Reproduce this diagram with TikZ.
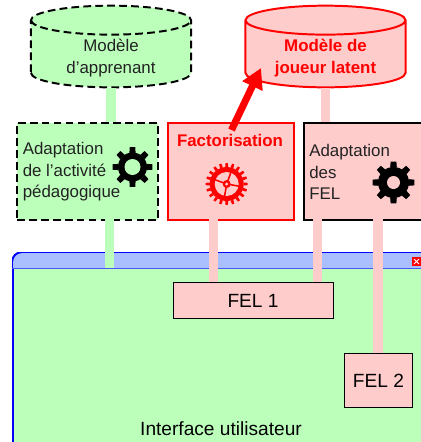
\documentclass[tikz,border=0pt]{standalone}
\usepackage{fontspec}
\setmainfont{Liberation Sans}
\usetikzlibrary{shapes.geometric,arrows.meta}

\definecolor{learner}{HTML}{BBFFBB}
\definecolor{player}{HTML}{FFCCCC}
\definecolor{titlebar}{HTML}{AABFFF}
\definecolor{darktext}{HTML}{222222}

\tikzset{
  longdash/.style={dash pattern=on 5.5pt off 3pt},
  modelbox/.style={cylinder,shape border rotate=90,aspect=0.325,minimum width=4cm,minimum height=1.93cm,
    anchor=shape center,inner sep=0pt,line width=1.4pt,align=center,font=\fontsize{12}{15.3}\selectfont},
  modeltext/.style={align=center,inner sep=0pt,font=\fontsize{12}{15.3}\selectfont},
  taskbox/.style={rectangle,minimum width=#1,minimum height=2.425cm,inner sep=0pt,line width=1.4pt,anchor=north west},
  tasktext/.style={anchor=west,align=left,inner sep=0pt,text=darktext,font=\fontsize{12}{15.3}\selectfont},
  felbox/.style={rectangle,draw=black,fill=player,inner sep=0pt,line width=0.7pt,anchor=north west,
    font=\fontsize{13.6}{15}\selectfont},
  flowgreen/.style={learner,line width=6.8pt},
  flowpink/.style={player,line width=6.8pt}
}

% the cylinder shape needs some content to keep its curved ends
\newcommand{\modelfill}{\phantom{d'apprenant}\\\phantom{d'apprenant}}

% cx, cy, outer radius, body radius, number of teeth
\newcommand{\cogteeth}[5]{
  \foreach \a in {1,...,#5} {
    \pgfmathsetmacro{\ang}{\a*360/#5}
    \pgfmathsetmacro{\half}{90/#5}
    \fill ([shift={(#1,#2)}]\ang-\half*1.1:#4) -- ([shift={(#1,#2)}]\ang-\half*0.7:#3)
      -- ([shift={(#1,#2)}]\ang+\half*0.7:#3) -- ([shift={(#1,#2)}]\ang+\half*1.1:#4) -- cycle;
  }
  \fill (#1,#2) circle (#4);
}

\begin{document}
\begin{tikzpicture}[x=0.025cm,y=-0.025cm]
  \clip (0,0) rectangle (421,442);

  % models
  \node[modelbox,draw=black,longdash,fill=learner] (learnermodel) at (111,46.5) {\modelfill};
  \node[modelbox,draw=red,fill=player] (playermodel) at (325.5,46.5) {\modelfill};
  \node[modeltext,text=darktext] (learnermodeltext) at (111,58) {Modèle\\d'apprenant};
  \node[modeltext,text=red,font=\fontsize{12}{15.3}\selectfont\bfseries] (playermodeltext) at (325.5,58) {Modèle de\\joueur latent};

  % tasks
  \node[taskbox=3.525cm,draw=black,longdash,fill=learner] (adaptactivity) at (16,122) {};
  \node[taskbox=3.15cm,draw=red,fill=player] (factorisation) at (167,122) {};
  \node[taskbox=3.5cm,draw=black,fill=player] (adaptfel) at (303,122) {};

  \node[tasktext] (adaptactivitytext) at (22.5,172) {Adaptation\\de l'activité\\pédagogique};
  \node[anchor=north,inner sep=0pt,text=red,font=\fontsize{12}{15}\selectfont\bfseries] (factorisationtext) at (230,134) {Factorisation};
  \node[tasktext] (adaptfeltext) at (309,172) {Adaptation\\des\\FEL};

  % window
  \node[rectangle,rounded corners=0.25cm,draw=blue,fill=learner,line width=1.4pt,minimum width=11.5cm,minimum height=5cm,
    anchor=north west] (window) at (12,252) {};
  \begin{scope}
    \clip (12,252) rectangle (440,268);
    \fill[titlebar,rounded corners=0.25cm] (12.5,252.5) rectangle (440,300);
    \draw[blue,line width=1.4pt,rounded corners=0.25cm] (12,252) rectangle (440,300);
  \end{scope}
  \coordinate (titlebottom) at (12,268);
  \draw[blue!55!titlebar,line width=0.7pt] (titlebottom) -- (421,268);
  \node[rectangle,fill=red,minimum size=0.225cm,inner sep=0pt,anchor=north west] (closebutton) at (412,257) {};
  \draw[white,line width=0.6pt] (closebutton.north west) ++(2,2) -- ++(5,5) ++(-5,0) -- ++(5,-5);
  \node[anchor=base,inner sep=0pt,font=\fontsize{13.6}{15}\selectfont] (windowtitle) at (221,435) {Interface utilisateur};

  \node[felbox,minimum width=4cm,minimum height=0.9cm] (fel1) at (172.5,282) {FEL 1};
  \node[felbox,minimum width=1.7cm,minimum height=1.35cm] (fel2) at (344,353) {FEL 2};

  % connectors
  \draw[flowgreen] (learnermodel.south) -- (learnermodel.south |- adaptactivity.north);
  \coordinate (activityout) at (109.5,219);
  \draw[flowgreen] (activityout) -- (activityout |- titlebottom);
  \draw[flowpink] (playermodel.south) -- (playermodel.south |- adaptfel.north);
  \coordinate (factout) at (213.5,219);
  \coordinate (felout) at (317.5,219);
  \coordinate (felouttwo) at (378,219);
  \draw[flowpink] (factout) -- (factout |- fel1.north);
  \draw[flowpink] (felout) -- (felout |- fel1.north);
  \draw[flowpink] (felouttwo) -- (felouttwo |- fel2.north);

  \coordinate (arrowend) at (261,68);
  \coordinate (arrowstart) at (231.5,130);
  \draw[-{Triangle[length=0.5cm,width=0.53cm]},red,line width=5pt] (arrowstart) -- (arrowend);

  % gears
  \begin{scope}[black]
    \cogteeth{132.5}{167}{20}{14.5}{8}
    \fill[learner] (132.5,167) circle (8);
    \cogteeth{393.5}{182.5}{21}{15.5}{8}
    \fill[player] (393.5,182.5) circle (6.5);
  \end{scope}
  \begin{scope}[red]
    \cogteeth{226.7}{184}{21}{17}{20}
    \fill[player] (226.7,184) circle (12);
    \foreach \a in {10,100,200,290} {
      \draw[line width=1.1pt] (226.7,184) -- ++(\a:12.5);
    }
    \fill (226.7,184) circle (4);
    \fill[player] (226.7,184) circle (1.7);
  \end{scope}
\end{tikzpicture}
\end{document}
